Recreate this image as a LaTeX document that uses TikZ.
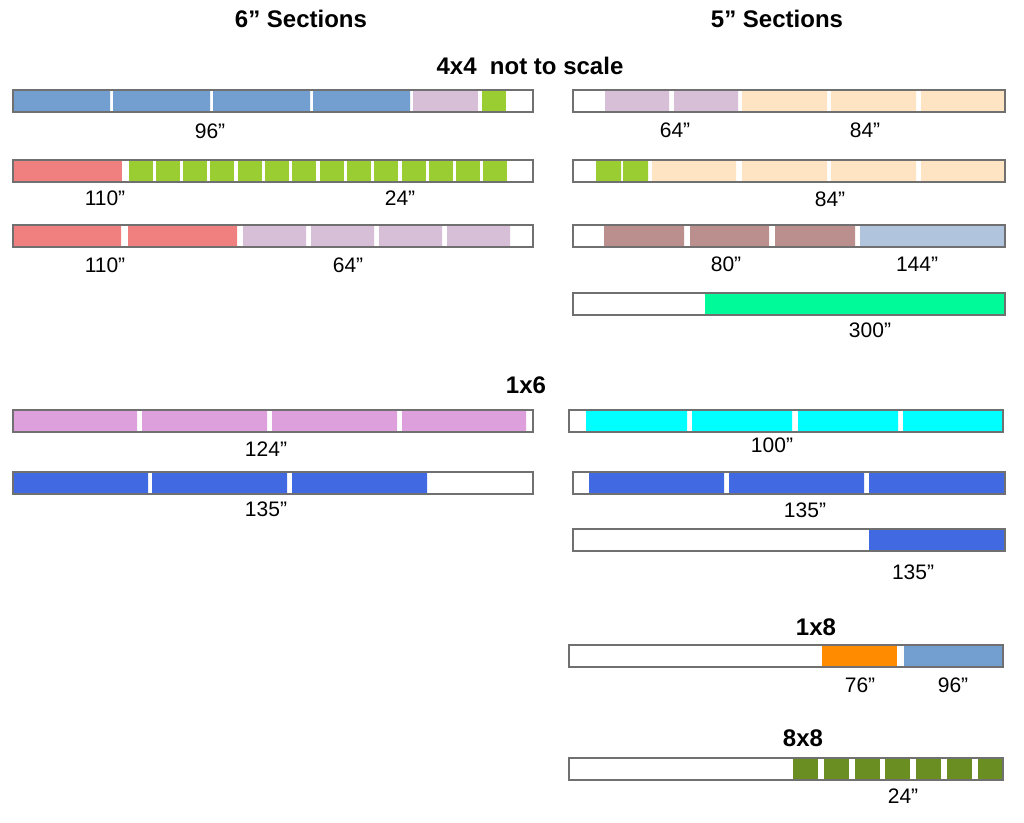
\documentclass[tikz,border=0pt]{standalone}
\usepackage{fontspec}
\setmainfont{Liberation Sans}
\definecolor{framegray}{HTML}{707070}
\definecolor{cSteel}{HTML}{729FCF}
\definecolor{cLilac}{HTML}{D8BFD8}
\definecolor{cYGreen}{HTML}{9ACD32}
\definecolor{cCoral}{HTML}{F08080}
\definecolor{cPeach}{HTML}{FFE4C4}
\definecolor{cRosy}{HTML}{BC8F8F}
\definecolor{cLSteel}{HTML}{B0C4DE}
\definecolor{cSpring}{HTML}{00FA9A}
\definecolor{cPlum}{HTML}{DDA0DD}
\definecolor{cRoyal}{HTML}{4169E1}
\definecolor{cCyan}{HTML}{00FFFF}
\definecolor{cOrange}{HTML}{FF8C00}
\definecolor{cOlive}{HTML}{6B8E23}
\begin{document}
\begin{tikzpicture}[x=1pt,y=-1pt,
  barframe/.style={draw=framegray, line width=1.4pt},
  lbl/.style={font=\fontsize{21}{24}\selectfont, inner sep=0pt},
  head/.style={font=\fontsize{24}{28}\selectfont\bfseries, inner sep=0pt},
]
\useasboundingbox[fill=white] (0,0) rectangle (1024,822);

% headings
\node[head] (h6) at (301,19) {6” Sections};
\node[head] (h5) at (777,19) {5” Sections};
\node[head] (h44) at (530,66) {4x4~ not to scale};
\node[head] (h16) at (526,385) {1x6};
\node[head] (h18) at (816,627) {1x8};
\node[head] (h88) at (803,738) {8x8};

% ---------- 4x4 left ----------
\fill[cSteel] (13,90) rectangle (110,112) (113,90) rectangle (210,112)
  (213,90) rectangle (310,112) (313,90) rectangle (410,112);
\fill[cLilac] (413,90) rectangle (478,112);
\fill[cYGreen] (482,90) rectangle (506,112);
\draw[barframe] (13,90) rectangle (533,112);
\node[lbl] (l1a) at (210,131) {96”};

\fill[cCoral] (13,160) rectangle (122,182);
\foreach \i in {0,...,13} \fill[cYGreen] ({128.5+27.3*\i},160) rectangle ++(24,22);
\draw[barframe] (13,160) rectangle (533,182);
\node[lbl] (l2a) at (105,198) {110”};
\node[lbl] (l2b) at (400,198) {24”};

\fill[cCoral] (13,225) rectangle (121,247) (128,225) rectangle (237,247);
\fill[cLilac] (243,225) rectangle (306,247) (311,225) rectangle (374,247)
  (379,225) rectangle (442,247) (447,225) rectangle (510,247);
\draw[barframe] (13,225) rectangle (533,247);
\node[lbl] (l3a) at (105,265) {110”};
\node[lbl] (l3b) at (348,265) {64”};

% ---------- 4x4 right ----------
\fill[cLilac] (605,90) rectangle (669,112) (674,90) rectangle (738,112);
\fill[cPeach] (742,90) rectangle (827,112) (831,90) rectangle (916,112)
  (921,90) rectangle (1005,112);
\draw[barframe] (573,90) rectangle (1005,112);
\node[lbl] (r1a) at (675,130) {64”};
\node[lbl] (r1b) at (865,130) {84”};

\fill[cYGreen] (596,160) rectangle (621,182) (623,160) rectangle (648,182);
\fill[cPeach] (652,160) rectangle (736,182) (742,160) rectangle (827,182)
  (831,160) rectangle (916,182) (921,160) rectangle (1005,182);
\draw[barframe] (573,160) rectangle (1005,182);
\node[lbl] (r2a) at (830,199) {84”};

\fill[cRosy] (604,225) rectangle (684,247) (690,225) rectangle (769,247)
  (775,225) rectangle (855,247);
\fill[cLSteel] (860,225) rectangle (1005,247);
\draw[barframe] (573,225) rectangle (1005,247);
\node[lbl] (r3a) at (726,264) {80”};
\node[lbl] (r3b) at (917,264) {144”};

\fill[cSpring] (705,293) rectangle (1005,315);
\draw[barframe] (573,293) rectangle (1005,315);
\node[lbl] (r4a) at (870,330) {300”};

% ---------- 1x6 left ----------
\fill[cPlum] (13,410) rectangle (137,432) (142,410) rectangle (267,432)
  (272,410) rectangle (397,432) (402,410) rectangle (526,432);
\draw[barframe] (13,410) rectangle (533,432);
\node[lbl] (l5a) at (266,449) {124”};

\fill[cRoyal] (13,472) rectangle (148,494) (152,472) rectangle (287,494)
  (292,472) rectangle (427,494);
\draw[barframe] (13,472) rectangle (533,494);
\node[lbl] (l6a) at (266,509) {135”};

% ---------- 1x6 right ----------
\fill[cCyan] (586,410) rectangle (687,432) (692,410) rectangle (792,432)
  (798,410) rectangle (898,432) (903,410) rectangle (1003,432);
\draw[barframe] (569,410) rectangle (1003,432);
\node[lbl] (r5a) at (772,445) {100”};

\fill[cRoyal] (589,472) rectangle (724,494) (729,472) rectangle (864,494)
  (869,472) rectangle (1005,494);
\draw[barframe] (573,472) rectangle (1005,494);
\node[lbl] (r6a) at (805,510) {135”};

\fill[cRoyal] (869,529) rectangle (1005,551);
\draw[barframe] (573,529) rectangle (1005,551);
\node[lbl] (r7a) at (913,572) {135”};

% ---------- 1x8 ----------
\fill[cOrange] (822,645) rectangle (897,667);
\fill[cSteel] (904,645) rectangle (1002,667);
\draw[barframe] (569,645) rectangle (1003,667);
\node[lbl] (r8a) at (860,685) {76”};
\node[lbl] (r8b) at (953,685) {96”};

% ---------- 8x8 ----------
\foreach \i in {0,...,6} \fill[cOlive] ({793+30.8*\i},758) rectangle ++(25,22);
\draw[barframe] (569,758) rectangle (1003,780);
\node[lbl] (r9a) at (903,796) {24”};
\end{tikzpicture}
\end{document}
